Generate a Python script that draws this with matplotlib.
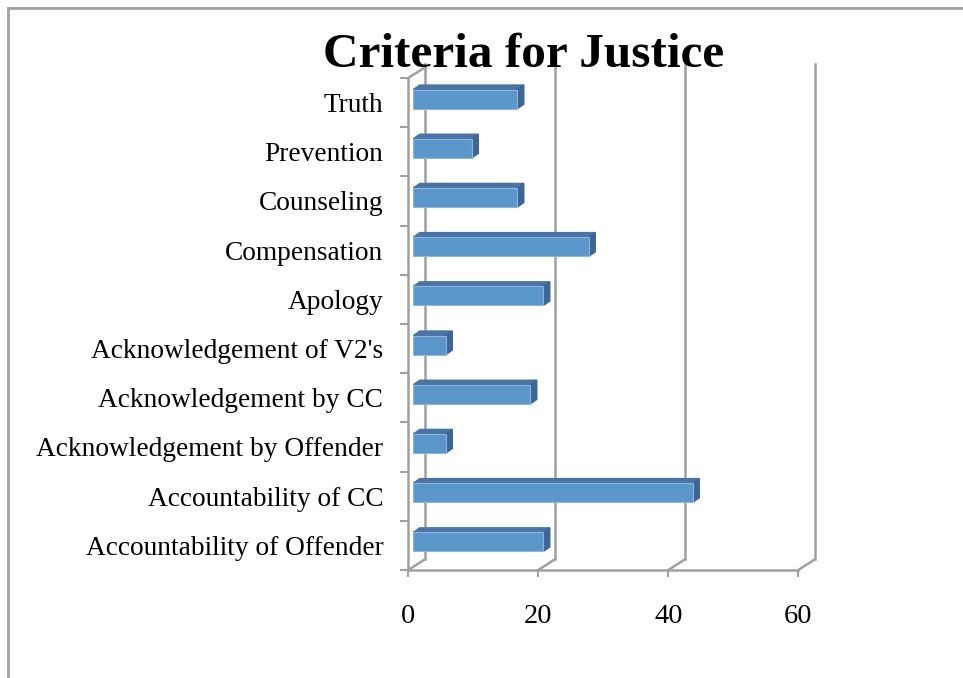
import numpy as np
import matplotlib.pyplot as plt
from matplotlib.patches import Polygon

# data, bottom to top as in the chart
criteria = ['Accountability of Offender', 'Accountability of CC',
            'Acknowledgement by Offender', 'Acknowledgement by CC',
            "Acknowledgement of V2's", 'Apology', 'Compensation',
            'Counseling', 'Prevention', 'Truth']
counts = [20, 43, 5, 18, 5, 20, 27, 16, 9, 16]
xticks = [0, 20, 40, 60]

grey = '#a0a0a0'
front_c = '#5b96cb'
top_c = '#4a74a3'
side_c = '#3e6694'

fig = plt.figure(figsize=(9.63, 6.78), dpi=100)
ax = fig.add_axes([408.3 / 963, 108 / 678, 390 / 963, 492 / 678])
ax.set_xlim(0, 60)
ax.set_ylim(-0.5, 9.5)

# oblique 3d offsets in data units (px / px-per-unit)
ux = 390 / 60
uy = 49.2
dxb, dyb = 16.7 / ux, 10.7 / uy     # back wall
dxf, dyf = 5.0 / ux, 3.5 / uy       # bar front face
ddx, ddy = 6.5 / ux, 4.5 / uy       # bar depth
h = 0.39

# back wall gridlines + floor slants
for v in xticks:
    ax.plot([v + dxb, v + dxb], [-0.5 + dyb, 9.5 + dyb + 0.06], color=grey, lw=1.8, clip_on=False, zorder=1)
    ax.plot([v, v + dxb], [-0.5, -0.5 + dyb], color=grey, lw=1.8, clip_on=False, zorder=1)
ax.plot([0, dxb], [9.5, 9.5 + dyb], color=grey, lw=1.8, clip_on=False, zorder=1)

y = np.arange(len(criteria))
ax.barh(y + dyf, counts, left=dxf, height=h, color=front_c, edgecolor='#8db4de', lw=0.8, zorder=3, clip_on=False)
for yi, v in zip(y, counts):
    x0, x1 = dxf, dxf + v
    yb, yt = yi + dyf - h / 2, yi + dyf + h / 2
    ax.add_patch(Polygon([(x0, yt), (x1, yt), (x1 + ddx, yt + ddy), (x0 + ddx, yt + ddy)],
                         closed=True, color=top_c, zorder=2, clip_on=False))
    ax.add_patch(Polygon([(x1, yb), (x1 + ddx, yb + ddy), (x1 + ddx, yt + ddy), (x1, yt)],
                         closed=True, color=side_c, zorder=2, clip_on=False))

for s in ['top', 'right']:
    ax.spines[s].set_visible(False)
for s in ['left', 'bottom']:
    ax.spines[s].set_color(grey)
    ax.spines[s].set_linewidth(1.8)

ax.set_xticks(xticks)
ax.set_xticklabels([str(t) for t in xticks])
ax.set_yticks(y)
ax.set_yticklabels(criteria)
ax.set_yticks(np.arange(-0.5, 10, 1), minor=True)
ax.tick_params(axis='y', which='major', length=0, pad=18)
ax.tick_params(axis='y', which='minor', length=6, width=1.5, color=grey)
ax.tick_params(axis='x', length=5, width=1.5, color=grey, pad=19.5)
for lab in ax.get_yticklabels():
    lab.set_fontfamily('Liberation Serif')
    lab.set_fontsize(19.7)
for lab in ax.get_xticklabels():
    lab.set_fontfamily('Liberation Serif')
    lab.set_fontsize(20.5)

fig.text(524 / 963, 1 - 67 / 678, 'Criteria for Justice', ha='center', va='baseline',
         fontsize=35.5, fontweight='bold', fontfamily='Liberation Serif')

# outer frame lines (top and left)
fig.add_artist(plt.Line2D([7.5 / 963, 1], [1 - 7.5 / 678, 1 - 7.5 / 678], color=grey, lw=2))
fig.add_artist(plt.Line2D([7.5 / 963, 7.5 / 963], [0, 1 - 7.5 / 678], color=grey, lw=2))

fig.savefig('out.png', dpi=100)
